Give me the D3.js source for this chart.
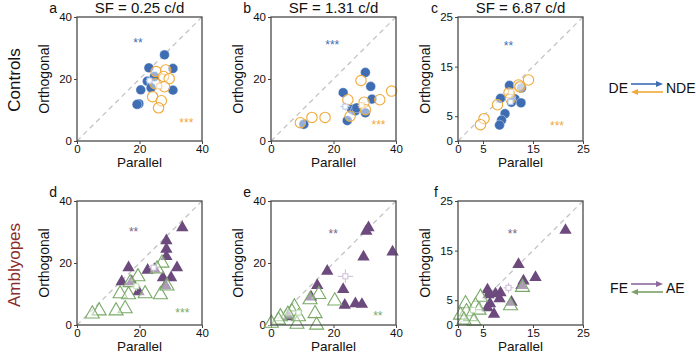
<!DOCTYPE html>
<html><head><meta charset="utf-8">
<script src="https://cdn.jsdelivr.net/npm/d3@7"></script>
<style>body{margin:0;background:#fff}svg{display:block}text{font-family:"Liberation Sans",Arial,sans-serif}</style>
</head><body>
<svg id="c" width="696" height="354"></svg>
<script>
// ---------- data ----------
const titles = ["SF = 0.25 c/d", "SF = 1.31 c/d", "SF = 6.87 c/d"];
const letters = ["a","b","c","d","e","f"];
const domainMax = [40, 40, 25];
const tickVals = [[0,20,40],[0,20,40],[0,5,15,25]];

// Controls: DE (filled blue) and NDE (open orange)
const aDE = [[28,27.8],[23,23.6],[30.7,23.4],[22.5,19.3],[24.8,20.8],[23.7,17.2],[20.4,16.5],[30.7,16.4],[19.8,12],[19.2,11.8]];
const aNDE = [[25.3,22.4],[28.4,22.9],[27.7,20.8],[29.5,20.1],[24.2,14.3],[27,13],[26.1,10.7],[25,18.5],[28,17.5]];
const bDE = [[30.2,22.1],[31.9,17.6],[23.1,15.6],[32.3,13.5],[25.8,10.2],[26.9,9.7],[27.4,10.7],[30.2,9.1],[24.4,6.6],[10.5,5.4]];
const bNDE = [[28.8,19.5],[38.6,16.1],[24.6,13.3],[34.8,13.3],[29.8,12.5],[9.4,5.9],[13.1,7.6],[17.3,7.6],[25.3,8],[30.2,10.1]];
const cDE = [[10.3,11.2],[12.7,10.7],[8.5,8.6],[11.4,8.5],[10.7,7.8],[12.6,7.7],[9.4,5.5],[8.7,4.2],[8.3,3.2]];
const cNDE = [[14.1,12.3],[12.1,11.3],[12.4,10.9],[10.2,9.7],[7.9,7.3],[5.2,4.5],[4.5,3.3],[10.5,8.6]];
// Amblyopes: FE (filled purple) and AE (open green)
const dFE = [[33.7,31.7],[28.6,27.5],[28.6,24.8],[28.6,22.4],[16.5,18.8],[22.6,18],[24.8,18.3],[32,18.8],[14.3,14.3],[17.5,14.3],[27.5,15.6],[30.1,15.6],[28.3,13],[19.7,11.1]];
const dAE = [[19.5,15.9],[17,14],[27.2,20.3],[13.8,10.4],[16.5,10.1],[21.8,10.4],[26.7,10.1],[28.8,12.9],[15.4,5.6],[12.5,4.9],[7.1,4.9],[4.9,3.9],[25.6,18.4]];
const eFE = [[31.2,31.7],[30.5,30.6],[38.9,23.9],[29.6,22.3],[18,17.7],[14.8,13.1],[12.8,9.4],[23.1,11.8],[23.6,6.7],[27,7.2],[29.1,7],[5.6,3]];
const eAE = [[15.3,10.2],[12.5,8.5],[20.4,8.1],[14.1,4],[14.6,0.3],[7.5,6.2],[6.7,4.6],[5.4,3.8],[3,3],[2.4,1.9],[0.1,0.9],[8.3,0.6],[8.8,3]];
const fFE = [[21.5,19.3],[12.1,12.4],[15.5,9.8],[13.1,9.1],[12.7,8.2],[5.9,7.3],[7.5,6.5],[8.5,6.7],[6.1,6.3],[8.3,5.5],[6.4,4.5],[5.9,3.7],[7.2,2.4],[10.7,4.8]];
const fAE = [[10.5,4.1],[12.9,7.8],[4.5,5.8],[1.5,4.5],[3.5,4.1],[4.2,3.2],[1.7,2.9],[2.5,1.9],[0.5,2.2],[3.2,1],[1.2,1.2]];
// means [x, y, errX, errY]
const meanFilled = [[23.2,19.5,1.2,1.3],[23.8,11.1,1.6,1.3],[10.5,7.9,0.6,0.7],[24.5,18.5,1.5,1.5],[23.8,15.7,2.5,2.2],[10.1,7.5,1,1]];
const meanOpen = [[26.3,17.7,1.1,1.4],[29,11.5,1.3,1.2],[10.6,9.9,0.6,0.6],[19,12.5,1.5,1.5],[8.8,4,1,1],[3,3,0.5,0.5]];
// significance stars [x, y, label]
const starsTop = [[19.5,32,"**"],[19.6,31.2,"***"],[10.1,19.4,"**"],[18.1,30.2,"**"],[19.9,29.6,"**"],[10.9,18.6,"**"]];
const starsBot = [[35,6,"***"],[34.4,5.4,"***"],[19.8,3.3,"***"],[33.7,4.1,"***"],[34.2,3.3,"**"],null];

// ---------- style ----------
const C = {blue:"#3e6db4", orange:"#f0a93a", purple:"#6c4a7d", green:"#78a966",
  lblue:"#b4c8e6", lorange:"#f6d3a3", lpurple:"#cbbcd6", lgreen:"#c4dcb8"};
const colX = [77, 271, 458], rowY = [17, 201], SW = 125, SH = 124;

const svg = d3.select("#c");
const filledSets = [aDE,bDE,cDE,dFE,eFE,fFE];
const openSets = [aNDE,bNDE,cNDE,dAE,eAE,fAE];

letters.forEach((L, i) => {
  const col = i % 3, row = Math.floor(i / 3);
  const m = domainMax[col];
  const x = d3.scaleLinear([0, m], [colX[col], colX[col] + SW]);
  const y = d3.scaleLinear([0, m], [rowY[row] + SH, rowY[row]]);
  const g = svg.append("g");
  const ctrl = row === 0;
  const fc = ctrl ? C.blue : C.purple, oc = ctrl ? C.orange : C.green;
  const lf = ctrl ? C.lblue : C.lpurple, lo = ctrl ? C.lorange : C.lgreen;

  // diagonal
  g.append("line").attr("x1", x(0)).attr("y1", y(0)).attr("x2", x(m)).attr("y2", y(m))
    .attr("stroke", "#c4c4c4").attr("stroke-width", 1.3).attr("stroke-dasharray", "5,4");

  // axes
  const ax = g.append("g").attr("transform", `translate(0,${rowY[row] + SH})`)
    .call(d3.axisBottom(x).tickValues(tickVals[col]).tickSize(3).tickPadding(1));
  const ay = g.append("g").attr("transform", `translate(${colX[col]},0)`)
    .call(d3.axisLeft(y).tickValues(tickVals[col]).tickSize(3).tickPadding(2));
  [ax, ay].forEach(a => {
    a.select(".domain").remove();
    a.selectAll("line").attr("stroke", "#444");
    a.selectAll("text").attr("font-size", 11.5).attr("fill", "#111").style("font-family", "Liberation Sans, Arial, sans-serif");
  });

  // filled markers
  if (ctrl) {
    g.selectAll(".f").data(filledSets[i]).join("circle")
      .attr("cx", d => x(d[0])).attr("cy", d => y(d[1])).attr("r", 4.9)
      .attr("fill", fc).attr("stroke", "#fff").attr("stroke-width", 0.4);
  } else {
    g.selectAll(".f").data(filledSets[i]).join("path")
      .attr("transform", d => `translate(${x(d[0])},${y(d[1]) + 1})`).attr("d", d3.symbol().type(d3.symbolTriangle).size(66))
      .attr("fill", fc);
  }
  // open markers
  if (ctrl) {
    g.selectAll(".o").data(openSets[i]).join("circle")
      .attr("cx", d => x(d[0])).attr("cy", d => y(d[1])).attr("r", 5.2)
      .attr("fill", "rgba(255,255,255,0.45)").attr("stroke", oc).attr("stroke-width", 1.1);
  } else {
    g.selectAll(".o").data(openSets[i]).join("path")
      .attr("transform", d => `translate(${x(d[0])},${y(d[1]) + 1})`).attr("d", d3.symbol().type(d3.symbolTriangle).size(85))
      .attr("fill", "rgba(255,255,255,0.45)").attr("stroke", oc).attr("stroke-width", 1.1);
  }
  // means with error bars
  [[meanFilled[i], lf], [meanOpen[i], lo]].forEach(([mm, col2]) => {
    const mg = g.append("g").attr("stroke", col2).attr("stroke-width", 1);
    mg.append("line").attr("x1", x(mm[0] - mm[2])).attr("x2", x(mm[0] + mm[2])).attr("y1", y(mm[1])).attr("y2", y(mm[1]));
    mg.append("line").attr("x1", x(mm[0])).attr("x2", x(mm[0])).attr("y1", y(mm[1] - mm[3])).attr("y2", y(mm[1] + mm[3]));
    mg.append("rect").attr("x", x(mm[0]) - 2.5).attr("y", y(mm[1]) - 2.5).attr("width", 5).attr("height", 5).attr("fill", "#fff");
  });

  // frame
  g.append("rect").attr("x", colX[col]).attr("y", rowY[row]).attr("width", SW).attr("height", SH)
    .attr("fill", "none").attr("stroke", "#4a4a4a").attr("stroke-width", 1.3);

  // stars
  const st = starsTop[i];
  g.append("text").attr("x", x(st[0])).attr("y", y(st[1]) + 5).attr("text-anchor", "middle")
    .attr("font-size", 12).attr("fill", ctrl ? C.blue : "#7a6585").text(st[2]);
  const sb = starsBot[i];
  if (sb) g.append("text").attr("x", x(sb[0])).attr("y", y(sb[1]) + 5).attr("text-anchor", "middle")
    .attr("font-size", 12).attr("fill", oc).text(sb[2]);

  // labels
  g.append("text").attr("x", colX[col] + SW / 2).attr("y", rowY[row] + SH + 26).attr("text-anchor", "middle")
    .attr("font-size", 13.5).attr("fill", "#111").text("Parallel");
  g.append("text").attr("transform", `translate(${colX[col] - 28},${rowY[row] + SH / 2}) rotate(-90)`)
    .attr("text-anchor", "middle").attr("font-size", 14).attr("fill", "#111").text("Orthogonal");
  g.append("text").attr("x", colX[col] - 20).attr("y", rowY[row] - 4).attr("text-anchor", "end")
    .attr("font-size", 14).attr("fill", "#111").text(L);
  if (row === 0) g.append("text").attr("x", colX[col] + SW / 2).attr("y", 13).attr("text-anchor", "middle")
    .attr("font-size", 15).attr("fill", "#111").text(titles[col]);
});

// row labels
svg.append("text").attr("transform", "translate(20,80) rotate(-90)").attr("text-anchor", "middle")
  .attr("font-size", 17).attr("fill", "#111").text("Controls");
svg.append("text").attr("transform", "translate(20,265) rotate(-90)").attr("text-anchor", "middle")
  .attr("font-size", 17).attr("fill", "#8b2b2b").text("Amblyopes");

// legends
function legend(yc, left, right, c1, c2) {
  const lg = svg.append("g");
  lg.append("text").attr("x", 628).attr("y", yc + 5).attr("text-anchor", "end").attr("font-size", 14).attr("fill", "#111").text(left);
  lg.append("text").attr("x", 666).attr("y", yc + 5).attr("font-size", 14).attr("fill", "#111").text(right);
  const arr = (x1, x2, yy, c) => {
    lg.append("line").attr("x1", x1).attr("x2", x2 - Math.sign(x2 - x1) * 4).attr("y1", yy).attr("y2", yy).attr("stroke", c).attr("stroke-width", 1.6);
    const d = Math.sign(x2 - x1);
    lg.append("path").attr("d", `M${x2},${yy} L${x2 - d * 7},${yy - 3} L${x2 - d * 7},${yy + 3} Z`).attr("fill", c);
  };
  arr(631, 663, yc - 4, c1);
  arr(663, 631, yc + 4, c2);
}
legend(88, "DE", "NDE", C.blue, C.orange);
legend(288, "FE", "AE", "#8a6a9c", "#7aa068");
</script>
</body></html>
